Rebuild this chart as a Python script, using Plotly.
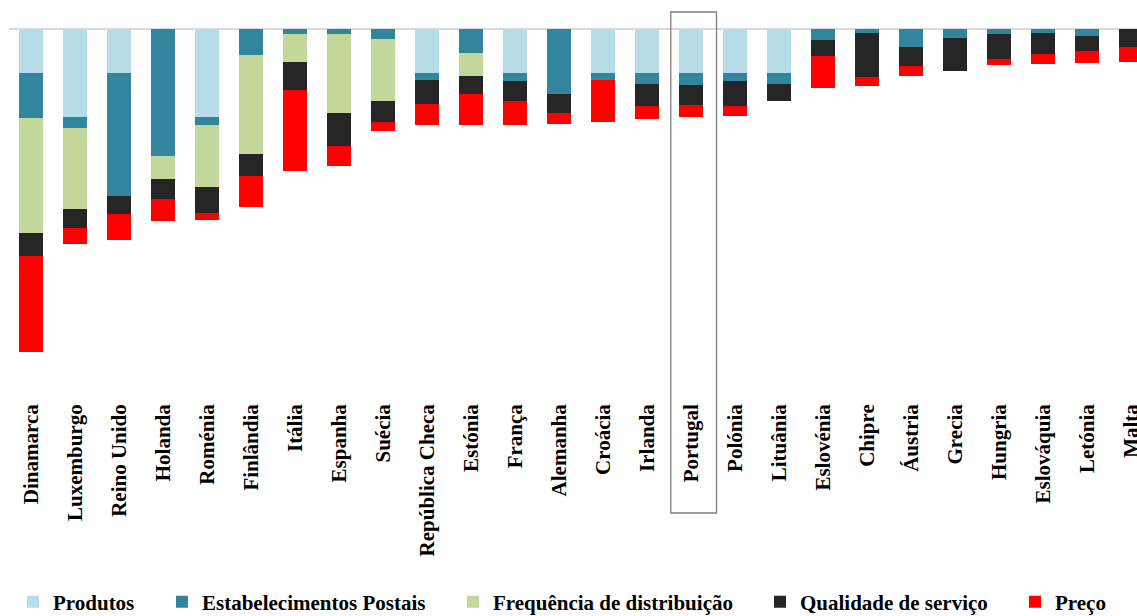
import plotly.graph_objects as go

# Countries, ordered by total score
countries = ["Dinamarca", "Luxemburgo", "Reino Unido", "Holanda", "Roménia", "Finlândia",
             "Itália", "Espanha", "Suécia", "República Checa", "Estónia", "França",
             "Alemanha", "Croácia", "Irlanda", "Portugal", "Polónia", "Lituânia",
             "Eslovénia", "Chipre", "Áustria", "Grecia", "Hungria", "Eslováquia",
             "Letónia", "Malta"]

# Contribution of each component (negative values stack downward)
produtos = [-0.44, -0.88, -0.44, 0, -0.88, 0, 0, 0, 0, -0.44, 0, -0.44, 0, -0.44, -0.44,
            -0.44, -0.44, -0.44, 0, 0, 0, 0, 0, 0, 0, 0]
estabelecimentos = [-0.45, -0.11, -1.23, -1.27, -0.08, -0.26, -0.05, -0.05, -0.10, -0.07,
                    -0.24, -0.08, -0.65, -0.07, -0.11, -0.12, -0.08, -0.11, -0.11, -0.04,
                    -0.18, -0.09, -0.05, -0.04, -0.07, 0]
frequencia = [-1.15, -0.81, 0, -0.23, -0.62, -0.99, -0.28, -0.79, -0.62, 0, -0.23, 0, 0, 0,
              0, 0, 0, 0, 0, 0, 0, 0, 0, 0, 0, 0]
qualidade = [-0.23, -0.19, -0.18, -0.20, -0.26, -0.22, -0.28, -0.33, -0.21, -0.24, -0.18,
             -0.20, -0.19, 0, -0.22, -0.20, -0.25, -0.17, -0.16, -0.44, -0.19, -0.33, -0.25,
             -0.21, -0.15, -0.18]
preco = [-0.96, -0.16, -0.26, -0.22, -0.07, -0.31, -0.81, -0.20, -0.09, -0.21, -0.31, -0.24,
         -0.11, -0.42, -0.13, -0.12, -0.10, 0, -0.32, -0.09, -0.10, 0, -0.06, -0.10, -0.12,
         -0.15]

series = [
    ("Produtos", produtos, "#B7DDE8"),
    ("Estabelecimentos Postais", estabelecimentos, "#31859C"),
    ("Frequência de distribuição", frequencia, "#C4D79B"),
    ("Qualidade de serviço", qualidade, "#262626"),
    ("Preço", preco, "#FF0000"),
]

highlight = "Portugal"

# Page geometry (pixels)
W, H = 1137, 616
TOP, BOTTOM, LEFT = 20, 398, 9
ZERO_PX = 29
PX_PER_UNIT = 100.0
PX_PER_CAT = 44.0

x_range = [-0.5, -0.5 + (W - LEFT) / PX_PER_CAT]
y_range = [-(BOTTOM - ZERO_PX) / PX_PER_UNIT, (ZERO_PX - TOP) / PX_PER_UNIT]

font_family = "Liberation Serif"
legend_x_px = [13, 162, 453, 760, 1015]
legend_y_px = 602

fig = go.Figure()
for k, (name, vals, color) in enumerate(series):
    legend_id = "legend" if k == 0 else f"legend{k + 1}"
    fig.add_trace(go.Bar(
        x=list(range(len(countries))), y=vals, name=name,
        marker=dict(color=color, line=dict(width=0)),
        legend=legend_id,
    ))

legend_font = dict(family=font_family, size=21, color="black", weight="bold")
legend_layouts = {}
for k, px in enumerate(legend_x_px):
    legend_id = "legend" if k == 0 else f"legend{k + 1}"
    legend_layouts[legend_id] = dict(
        x=(px - LEFT) / (W - LEFT), xanchor="left",
        y=(BOTTOM - legend_y_px) / (BOTTOM - TOP), yanchor="middle",
        orientation="h", bgcolor="rgba(0,0,0,0)",
        font=legend_font,
    )

# Frame around the highlighted country, from above the bars down through its label
hi = countries.index(highlight)
def to_paper_x(v):
    return (v - x_range[0]) / (x_range[1] - x_range[0])
def to_paper_y(px):
    return (BOTTOM - px) / (BOTTOM - TOP)

fig.add_shape(type="rect", xref="paper", yref="paper",
              x0=to_paper_x(hi - 0.46), x1=to_paper_x(hi + 0.58),
              y0=to_paper_y(513), y1=to_paper_y(12),
              line=dict(color="#7F7F7F", width=1.3), fillcolor="rgba(0,0,0,0)")

fig.update_layout(
    width=W, height=H,
    margin=dict(l=LEFT, r=0, t=TOP, b=H - BOTTOM, pad=0, autoexpand=False),
    barmode="relative", bargap=0.455,
    plot_bgcolor="white", paper_bgcolor="white",
    font=dict(family=font_family, size=21, color="black"),
    showlegend=True,
    **legend_layouts,
)
fig.update_xaxes(
    range=x_range, tickmode="array", tickvals=list(range(len(countries))),
    ticktext=countries, tickangle=-90, ticklabeloverflow="allow",
    ticklabelstandoff=1,
    showgrid=False, zeroline=False, showline=False, ticks="",
    tickfont=dict(family=font_family, size=21, color="black", weight="bold"),
)
fig.update_yaxes(
    range=y_range, showticklabels=False, showgrid=False,
    zeroline=True, zerolinecolor="#D9D9D9", zerolinewidth=2, showline=False, ticks="",
)

fig.write_html("out.html")
